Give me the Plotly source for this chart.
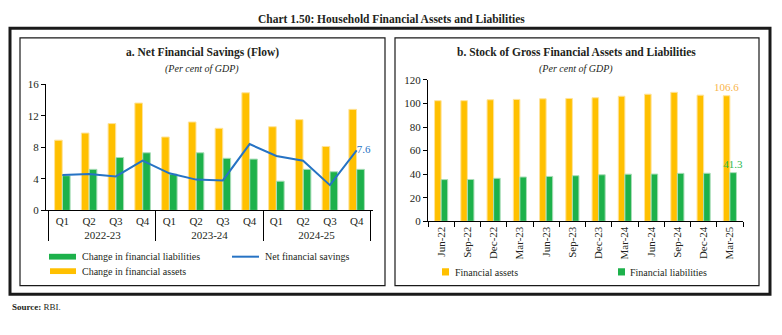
import plotly.graph_objects as go

W, H = 782, 335

# ---- Panel a: net financial savings (flow), per cent of GDP ----
years = ["2022-23"] * 4 + ["2023-24"] * 4 + ["2024-25"] * 4
quarters = ["Q1", "Q2", "Q3", "Q4"] * 3
fin_assets_flow = [8.9, 9.8, 11.0, 13.6, 9.3, 11.2, 10.4, 14.9, 10.6, 11.5, 8.1, 12.8]
fin_liab_flow = [4.4, 5.2, 6.7, 7.3, 4.6, 7.3, 6.6, 6.5, 3.7, 5.2, 4.9, 5.2]
net_savings = [4.5, 4.6, 4.3, 6.3, 4.7, 3.9, 3.8, 8.4, 6.9, 6.3, 3.2, 7.6]

# ---- Panel b: stock of gross financial assets and liabilities ----
quarter_ends = ["Jun-22", "Sep-22", "Dec-22", "Mar-23", "Jun-23", "Sep-23",
                "Dec-23", "Mar-24", "Jun-24", "Sep-24", "Dec-24", "Mar-25"]
fin_assets_stock = [102.4, 102.4, 103.2, 103.5, 104.0, 104.3, 104.9, 106.2,
                    107.9, 109.5, 107.1, 106.6]
fin_liab_stock = [35.4, 35.5, 36.5, 37.6, 38.1, 38.7, 39.5, 40.0, 40.1, 40.7,
                  40.8, 41.3]

YELLOW = "#FFC000"
GREEN = "#1DB14B"
BLUE = "#2673C4"
TXT = "#231F20"
FONT = "Liberation Serif"


def px(x):
    return x / W


def py(y):
    return 1 - y / H


def last_only(vals, fmt="{:.1f}"):
    return [""] * (len(vals) - 1) + [fmt.format(vals[-1])]


fig = go.Figure()

xa = [years, quarters]
fig.add_trace(go.Bar(
    x=xa, y=fin_assets_flow, marker=dict(color=YELLOW, line=dict(color="#FFE39A", width=1)),
    offset=-0.29, width=0.285, xaxis="x", yaxis="y", showlegend=False))
fig.add_trace(go.Bar(
    x=xa, y=fin_liab_flow, marker=dict(color=GREEN, line=dict(color="#A9DDB7", width=1)),
    offset=0.005, width=0.285, xaxis="x", yaxis="y", showlegend=False))
fig.add_trace(go.Scatter(
    x=xa, y=net_savings, mode="lines+text", line=dict(color=BLUE, width=2),
    text=last_only(net_savings), textposition="middle right",
    textfont=dict(color=BLUE, size=11, family=FONT), cliponaxis=False,
    xaxis="x", yaxis="y", showlegend=False))

fig.add_trace(go.Bar(
    x=quarter_ends, y=fin_assets_stock,
    marker=dict(color=YELLOW, line=dict(color="#FFE39A", width=1)),
    offset=-0.25, width=0.25, text=last_only(fin_assets_stock), textposition="outside",
    constraintext="none",
    textfont=dict(color="#F9B54A", size=11, family=FONT), cliponaxis=False,
    xaxis="x2", yaxis="y2", showlegend=False))
fig.add_trace(go.Bar(
    x=quarter_ends, y=fin_liab_stock,
    marker=dict(color=GREEN, line=dict(color="#A9DDB7", width=1)),
    offset=0.0, width=0.25, text=last_only(fin_liab_stock), textposition="outside",
    constraintext="none",
    textfont=dict(color="#2DB84E", size=11, family=FONT), cliponaxis=False,
    xaxis="x2", yaxis="y2", showlegend=False))

axis_common = dict(showline=True, linecolor="black", linewidth=1, showgrid=False,
                   zeroline=False, tickfont=dict(family=FONT, size=11, color=TXT))

fig.update_layout(
    width=W, height=H, margin=dict(l=0, r=0, t=0, b=0),
    paper_bgcolor="white", plot_bgcolor="white",
    barmode="overlay",
    font=dict(family=FONT, color=TXT),
    xaxis=dict(domain=[px(46), px(373)], type="multicategory", anchor="y",
               showdividers=True, dividercolor="black", dividerwidth=1,
               ticks="", **axis_common),
    yaxis=dict(domain=[py(212), py(81)], range=[0, 16], dtick=4, anchor="x",
               ticks="outside", ticklen=4, tickcolor="black", **axis_common),
    xaxis2=dict(domain=[px(428), px(743)], anchor="y2", tickangle=-90,
                ticks="outside", ticklen=5, tickcolor="black", tickson="boundaries",
                **axis_common),
    yaxis2=dict(domain=[py(223.3), py(76.7)], range=[0, 120], dtick=20, anchor="x2",
                ticks="outside", ticklen=4, tickcolor="black", **axis_common),
)

shapes = [
    # outer frame and the two panel frames
    dict(type="rect", xref="paper", yref="paper", x0=px(10), x1=px(770), y0=py(299), y1=py(23),
         line=dict(color="#1a1a1a", width=3)),
    dict(type="rect", xref="paper", yref="paper", x0=px(20), x1=px(385), y0=py(290), y1=py(33),
         line=dict(color="#1a1a1a", width=1.2)),
    dict(type="rect", xref="paper", yref="paper", x0=px(395), x1=px(759), y0=py(290), y1=py(33),
         line=dict(color="#1a1a1a", width=1.2)),
    # legend swatches, panel a
    dict(type="rect", xref="paper", yref="paper", x0=px(49), x1=px(76), y0=py(263), y1=py(257),
         fillcolor=GREEN, line=dict(width=0)),
    dict(type="rect", xref="paper", yref="paper", x0=px(50), x1=px(76), y0=py(278), y1=py(272),
         fillcolor=YELLOW, line=dict(width=0)),
    dict(type="line", xref="paper", yref="paper", x0=px(232), x1=px(259), y0=py(260), y1=py(260),
         line=dict(color=BLUE, width=2)),
    # legend swatches, panel b
    dict(type="rect", xref="paper", yref="paper", x0=px(442), x1=px(449), y0=py(279.5), y1=py(272),
         fillcolor=YELLOW, line=dict(width=0)),
    dict(type="rect", xref="paper", yref="paper", x0=px(618), x1=px(625), y0=py(279.5), y1=py(272),
         fillcolor=GREEN, line=dict(width=0)),
]
fig.update_layout(shapes=shapes)


def note(text, x, y, size=10, anchor="left", **kw):
    fig.add_annotation(text=text, x=px(x), y=py(y), xref="paper", yref="paper",
                       xanchor=anchor, yanchor="middle", showarrow=False,
                       font=dict(family=FONT, size=size, color=TXT), **kw)


note("<b>Chart 1.50: Household Financial Assets and Liabilities</b>", 391, 13, size=11.5, anchor="center")
note("<b>a. Net Financial Savings (Flow)</b>", 202, 48, size=11.5, anchor="center")
note("<i>(Per cent of GDP)</i>", 202, 65, size=10, anchor="center")
note("<b>b. Stock of Gross Financial Assets and Liabilities</b>", 576, 48, size=11.5, anchor="center")
note("<i>(Per cent of GDP)</i>", 576, 65, size=10, anchor="center")

note("Change in financial liabilities", 80, 260)
note("Change in financial assets", 80, 275)
note("Net financial savings", 263, 260)
note("Financial assets", 453, 276)
note("Financial liabilities", 628, 276)
note("<b>Source:</b> RBI.", 10, 312, size=9)

fig.write_html("out.html")
